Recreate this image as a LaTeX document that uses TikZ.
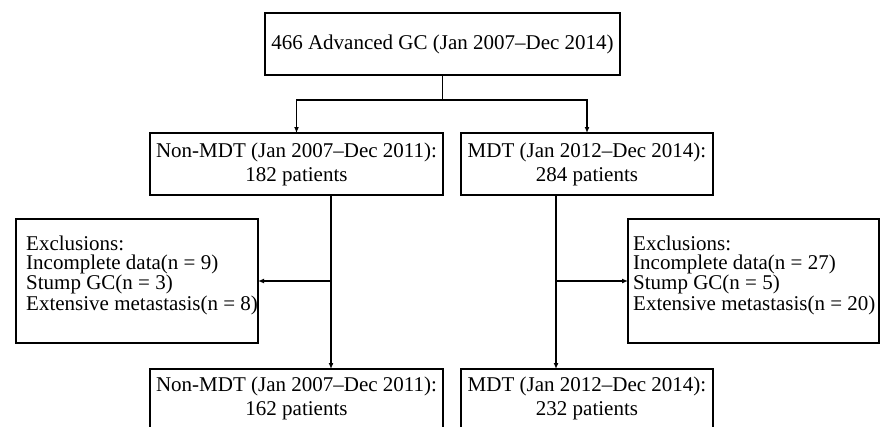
\documentclass[tikz,border=0pt]{standalone}
\usepackage{fontspec}
\setmainfont{Liberation Serif}
\usetikzlibrary{arrows.meta}
\begin{document}
\begin{tikzpicture}[x=1pt,y=-1pt,
  box/.style={draw,line width=1.6pt,outer sep=0pt,inner sep=0pt,align=center,
    font=\fontsize{21}{24}\selectfont},
  txt/.style={inner sep=0pt,anchor=base west,align=left,
    font=\fontsize{21}{19}\selectfont},
  conn/.style={line width=1.6pt},
  arr/.style={conn,-{Latex[length=6pt,width=5pt]}}]
\useasboundingbox (0,0) rectangle (881,426);
\clip (0,0) rectangle (881,426);
\fill[white] (0,0) rectangle (881,426);
% boxes
\node[box,minimum width=355,minimum height=62] (top) at (442.5,44) {466 Advanced GC (Jan 2007--Dec 2014)};
\node[box,minimum width=293,minimum height=62] (nm) at (296.5,164) {Non-MDT (Jan 2007--Dec 2011):\\182 patients};
\node[box,minimum width=252,minimum height=62] (md) at (587,164) {MDT (Jan 2012--Dec 2014):\\284 patients};
\node[box,minimum width=242,minimum height=124] (exl) at (137,281) {};
\node[box,minimum width=251,minimum height=124] (exr) at (753.5,281) {};
\node[box,minimum width=293,minimum height=62,text depth=8pt] (nm2) at (296.5,400) {Non-MDT (Jan 2007--Dec 2011):\\162 patients};
\node[box,minimum width=252,minimum height=62,text depth=8pt] (md2) at (587,400) {MDT (Jan 2012--Dec 2014):\\232 patients};
% exclusion texts (anchored at the baseline of the last line)
\node[txt] (exlt) at (26,310) {Exclusions:\\Incomplete data(n = 9)\\Stump GC(n = 3)\\Extensive metastasis(n = 8)};
\node[txt] (exrt) at (633,310) {Exclusions:\\Incomplete data(n = 27)\\Stump GC(n = 5)\\Extensive metastasis(n = 20)};
% connectors
\coordinate (split) at (top.south |- 0,100);
\draw[conn] (top.south) -- (split);
\draw[arr] (split) -| (nm.north);
\draw[arr] (split) -| (md.north);
\coordinate (la) at (331,195);
\coordinate (lb) at (331,281);
\draw[arr] (la) -- (la |- nm2.north);
\draw[arr] (lb) -- (exl.east |- lb);
\coordinate (ra) at (556,195);
\coordinate (rb) at (556,281);
\draw[arr] (ra) -- (ra |- md2.north);
\draw[arr] (rb) -- (exr.west |- rb);
\end{tikzpicture}
\end{document}
